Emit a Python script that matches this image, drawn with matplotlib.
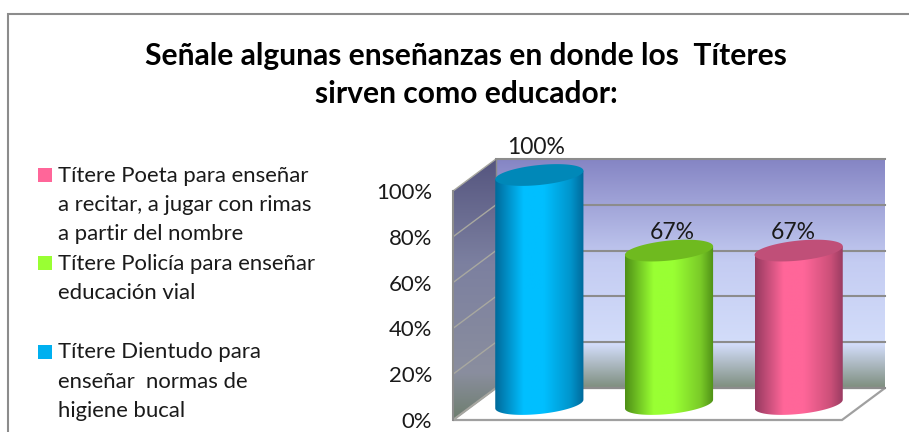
import numpy as np
import matplotlib
matplotlib.use("Agg")
import matplotlib.pyplot as plt
from matplotlib.colors import LinearSegmentedColormap
from matplotlib.patches import Polygon, Rectangle
from matplotlib.ticker import FuncFormatter
from matplotlib.transforms import Affine2D, IdentityTransform

W, H = 909, 432

title_lines = ["Señale algunas enseñanzas en donde los  Títeres", "sirven como educador:"]
categories = ["Títere Dientudo", "Títere Policía", "Títere Poeta"]
values = [100, 67, 67]
value_labels = ["100%", "67%", "67%"]
y_ticks = [0, 20, 40, 60, 80, 100]
legend_lines = [
    ["Títere Poeta para enseñar", "a recitar, a jugar con rimas", "a partir del nombre"],
    ["Títere Policía para enseñar", "educación vial"],
    ["Títere Dientudo para", "enseñar  normas de", "higiene bucal"],
]
legend_colors = ["#FF6699", "#99FF33", "#00B0F0"]
# dark edge, bright centre, soft right, top face
bar_shades = [
    ("#00699A", "#00BFFF", "#0095CC", "#0088B8"),
    ("#4E8F16", "#99FF33", "#7ACB28", "#6FBA1F"),
    ("#963A60", "#FF6699", "#CC5079", "#C04F78"),
]

plt.rcParams["font.family"] = ["Lato", "DejaVu Sans"]


def gradient(ax, colors, extent, clip, vertical=True):
    cmap = LinearSegmentedColormap.from_list("g", colors)
    grad = np.linspace(0, 1, 256)
    grad = grad[:, None] if vertical else grad[None, :]
    im = ax.imshow(grad, cmap=cmap, extent=extent, aspect="auto", origin="lower",
                   interpolation="bilinear", zorder=clip.get_zorder())
    im.set_transform(IdentityTransform())
    im.set_clip_box(ax.figure.bbox)
    im.set_clip_path(clip)
    return im


fig = plt.figure(figsize=(W / 100, H / 100), dpi=100)
fig.patch.set_facecolor("white")

# outer chart frame, runs off the right and bottom of the picture
fig.add_artist(Rectangle((8, -5), W, H - 14 + 5, transform=IdentityTransform(),
                         fill=False, edgecolor="#8C8C8C", linewidth=1.5))

for line, y in zip(title_lines, [56, 94]):
    fig.text(466 / W, 1 - y / H, line, ha="center", va="center",
             fontsize=21.6, fontweight="bold", color="black")

# legend
row_y = [175, 263, 352]
for lines, col, y0 in zip(legend_lines, legend_colors, row_y):
    fig.add_artist(Rectangle((38, H - y0 - 7), 14, 14, transform=IdentityTransform(),
                             facecolor=col, edgecolor="none"))
    for k, line in enumerate(lines):
        fig.text(57.5 / W, 1 - (y0 + 0.5 + k * 29.3) / H, line, ha="left", va="center",
                 fontsize=15.9, color="#1a1a1a")

# axes sits on the front plane of the 3D box: 0% at y=420, 100% at y=191
x0, x1, y_bot, y_top = 453, 842, 420, 191
ax = fig.add_axes([x0 / W, 1 - y_bot / H, (x1 - x0) / W, (y_bot - y_top) / H])
ax.patch.set_visible(False)
for s in ax.spines.values():
    s.set_visible(False)
ax.set_xticks([])
ax.set_yticks(y_ticks)
ax.yaxis.set_major_formatter(FuncFormatter(lambda v, _: f"{int(v)}%"))
ax.tick_params(axis="y", length=0, pad=15, labelsize=15.9, labelcolor="#1a1a1a")
xlim = (-0.5, len(values) - 0.5)
ylim = (0, 100)
ax.set_xlim(*xlim)
ax.set_ylim(*ylim)

depth_x, depth_y = 43, 32
back = ax.transData + Affine2D().translate(depth_x, depth_y)
mid = ax.transData + Affine2D().translate(depth_x / 2, depth_y / 2)

# back wall
bl = back.transform((xlim[0], 0))
tr = back.transform((xlim[1], 100))
wall = Polygon([bl, (tr[0], bl[1]), tr, (bl[0], tr[1])], closed=True, transform=IdentityTransform(),
               facecolor="none", edgecolor="none", zorder=1)
ax.add_patch(wall)
gradient(ax, [(0, "#7E8E7E"), (0.19, "#D3DDFA"), (0.55, "#C4CCF2"), (1, "#8585C4")],
         [bl[0], tr[0], bl[1], tr[1]], wall)

# side wall
f0 = ax.transData.transform((xlim[0], 0))
f1 = ax.transData.transform((xlim[0], 100))
side = Polygon([f0, bl, (bl[0], tr[1]), f1], closed=True, transform=IdentityTransform(),
               facecolor="none", edgecolor="none", zorder=1)
ax.add_patch(side)
gradient(ax, [(0, "#6E7E6E"), (0.18, "#8A8E9E"), (0.6, "#7C80A0"), (1, "#55557F")],
         [f0[0], bl[0], f0[1], tr[1]], side)

# floor
fr = ax.transData.transform((xlim[1], 0))
floor = Polygon([f0, fr, (tr[0], bl[1]), bl], closed=True, transform=IdentityTransform(),
                facecolor="white", edgecolor="#A0A0A0", linewidth=1.6, zorder=1.5, clip_on=False)
ax.add_patch(floor)

# gridlines on the walls
for t in y_ticks:
    a = ax.transData.transform((xlim[0], t))
    b = back.transform((xlim[0], t))
    c = back.transform((xlim[1], t))
    ax.plot([a[0], b[0]], [a[1], b[1]], transform=IdentityTransform(), color="#A8A8A0",
            lw=1.0, zorder=2, clip_on=False)
    ax.plot([b[0], c[0]], [b[1], c[1]], transform=IdentityTransform(), color="#8C8C8C",
            lw=1.5, zorder=2, clip_on=False)
ax.plot([f0[0], f1[0]], [f0[1], f1[1]], transform=IdentityTransform(), color="#8C8C8C", lw=1.5,
        zorder=2, clip_on=False)
ax.plot([bl[0], bl[0]], [bl[1], tr[1]], transform=IdentityTransform(), color="#8C8C8C", lw=1,
        zorder=2, clip_on=False)

# cylinders
bar_w = 0.68
half_h = 10.0
tilt = 4.3
t_param = np.linspace(0, 2 * np.pi, 121)
label_dx = [-3, 3.5, -5]
label_dy = [27, 18, 18]
for i, (v, shades, lab) in enumerate(zip(values, bar_shades, value_labels)):
    lo = mid.transform((i - bar_w / 2, 0))
    hi = mid.transform((i + bar_w / 2, v))
    cx = (lo[0] + hi[0]) / 2
    rx = (hi[0] - lo[0]) / 2
    base_y, top_y = lo[1], hi[1]
    arc = np.linspace(np.pi, 2 * np.pi, 60)
    body_x = np.r_[cx - rx, cx + rx * np.cos(arc), cx + rx]
    body_y = np.r_[top_y - tilt, base_y + tilt * np.cos(arc) + half_h * np.sin(arc), top_y + tilt]
    body = Polygon(np.c_[body_x, body_y], closed=True, transform=IdentityTransform(),
                   facecolor="none", edgecolor="none", zorder=3)
    ax.add_patch(body)
    dark, bright, soft, face = shades
    gradient(ax, [(0, dark), (0.32, bright), (0.55, bright), (0.85, soft), (1, dark)],
             [cx - rx, cx + rx, base_y - 15, top_y + 15], body, vertical=False)
    top = Polygon(np.c_[cx + rx * np.cos(t_param), top_y + tilt * np.cos(t_param) + half_h * np.sin(t_param)],
                  closed=True, transform=IdentityTransform(), facecolor=face, edgecolor="none",
                  zorder=4, clip_on=False)
    ax.add_patch(top)
    ax.text(cx + label_dx[i], top_y + label_dy[i], lab, transform=IdentityTransform(), ha="center",
            va="center", fontsize=16.5, color="#1a1a1a", zorder=5, clip_on=False)

ax.set_xlim(*xlim)
ax.set_ylim(*ylim)
fig.savefig("out.png", dpi=100)
